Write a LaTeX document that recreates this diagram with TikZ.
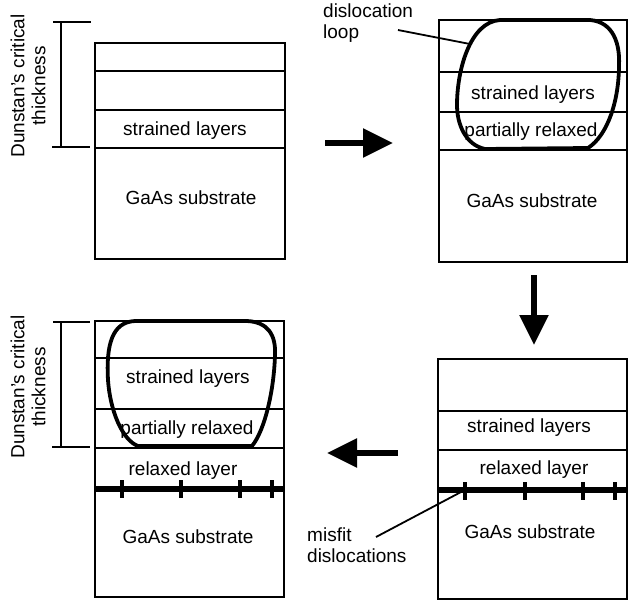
\documentclass[tikz,border=0pt]{standalone}
\usepackage{fontspec}
\setmainfont{Liberation Sans}
\usetikzlibrary{arrows.meta}

\begin{document}
\begin{tikzpicture}[x=1pt, y=-1pt,
        layer/.style={line width=1.4pt},
        txt/.style={font=\fontsize{19}{21}\selectfont, inner sep=0pt},
        dloop/.style={line width=3.8pt, line join=round},
        misfit/.style={line width=5.2pt},
        mtick/.style={line width=4.4pt},
        bracket/.style={line width=1.6pt},
        leader/.style={line width=1.8pt},
        bigarrow/.style={line width=5.4pt, -{Triangle[length=30pt, width=28pt]}}
    ]
        \useasboundingbox (0,0) rectangle (628,600);

        % Step 1: as grown
        \draw[layer] (95,43) rectangle (285,259);
        \foreach \y in {71,110,148} \draw[layer] (95,\y) -- (285,\y);
        \node[txt] (strain1) at (185,131) {strained layers};
        \node[txt] (sub1) at (191,198) {GaAs substrate};

        % Critical thickness bracket
        \coordinate (b1top) at (61,22);
        \coordinate (b1bot) at (61,147);
        \draw[bracket] (b1top) -- (b1bot);
        \draw[bracket] ([xshift=-8pt]b1top) -- ([xshift=30pt]b1top);
        \draw[bracket] ([xshift=-9pt]b1bot) -- ([xshift=29pt]b1bot);
        \node[txt, rotate=90, align=center] (dct1) at (28,86) {Dunstan's critical\\thickness};

        % Step 2: loop nucleates
        \draw[layer] (439,20) rectangle (627,262);
        \foreach \y in {72,112,150} \draw[layer] (439,\y) -- (627,\y);
        \node[txt] (strain2) at (533,95) {strained layers};
        \node[txt] (part2) at (531,132) {partially relaxed};
        \node[txt] (sub2) at (532,201) {GaAs substrate};
        \draw[dloop] (545,20) -- (590,20) .. controls (614,22) and (620,45) .. (619,65)
            .. controls (619,100) and (608,135) .. (588,148) -- (485,149)
            .. controls (466,145) and (457,125) .. (457,105)
            .. controls (457,70) and (470,22) .. (500,20) -- cycle;
        \node[txt, align=left, anchor=north west] (looplbl) at (323,4) {dislocation\\loop};
        \coordinate (loopa) at (398,30);
        \coordinate (loopb) at (470,44);
        \draw[leader] (loopa) -- (loopb);

        % Step 3: relaxed layer with misfit dislocations
        \draw[layer] (438,359) rectangle (627,599);
        \foreach \y in {411,450} \draw[layer] (438,\y) -- (627,\y);
        \draw[misfit] (438,490) -- (628,490);
        \foreach \x in {465,525,583,615} \draw[mtick] (\x,482) -- (\x,500);
        \node[txt] (strain3) at (529,428) {strained layers};
        \node[txt] (relax3) at (534,470) {relaxed layer};
        \node[txt] (sub3) at (530,532) {GaAs substrate};
        \node[txt, align=left, anchor=north west] (misfitlbl) at (307,528) {misfit\\dislocations};
        \coordinate (misa) at (376,537);
        \coordinate (misb) at (461,492);
        \draw[leader] (misa) -- (misb);

        % Step 4: loop grows into the relaxed layer
        \draw[layer] (95,321) rectangle (284,597);
        \foreach \y in {358,409,448} \draw[layer] (95,\y) -- (284,\y);
        \draw[misfit] (95,489) -- (284,489);
        \foreach \x in {122,181,240,272} \draw[mtick] (\x,480) -- (\x,498);
        \node[txt] (strain4) at (188,379) {strained layers};
        \node[txt] (part4) at (187,430) {partially relaxed};
        \node[txt] (relax4) at (183,471) {relaxed layer};
        \node[txt] (sub4) at (188,537) {GaAs substrate};
        \draw[dloop] (190,321) -- (247,321) .. controls (268,322) and (276,335) .. (275,355)
            .. controls (274,390) and (265,430) .. (252,446) -- (138,446)
            .. controls (122,440) and (110,410) .. (108,380)
            .. controls (106,345) and (112,322) .. (135,321) -- cycle;

        % Critical thickness bracket
        \coordinate (b4top) at (61,322);
        \coordinate (b4bot) at (61,447);
        \draw[bracket] (b4top) -- (b4bot);
        \draw[bracket] ([xshift=-8pt]b4top) -- ([xshift=29pt]b4top);
        \draw[bracket] ([xshift=-9pt]b4bot) -- ([xshift=29pt]b4bot);
        \node[txt, rotate=90, align=center] (dct4) at (28,387) {Dunstan's critical\\thickness};

        % Arrows between steps
        \coordinate (r1) at (325,143);
        \coordinate (r2) at (393,143);
        \draw[bigarrow] (r1) -- (r2);
        \coordinate (d1) at (534,275);
        \coordinate (d2) at (534,345);
        \draw[bigarrow] (d1) -- (d2);
        \coordinate (l1) at (398,453);
        \coordinate (l2) at (327,453);
        \draw[bigarrow] (l1) -- (l2);
    \end{tikzpicture}
\end{document}
